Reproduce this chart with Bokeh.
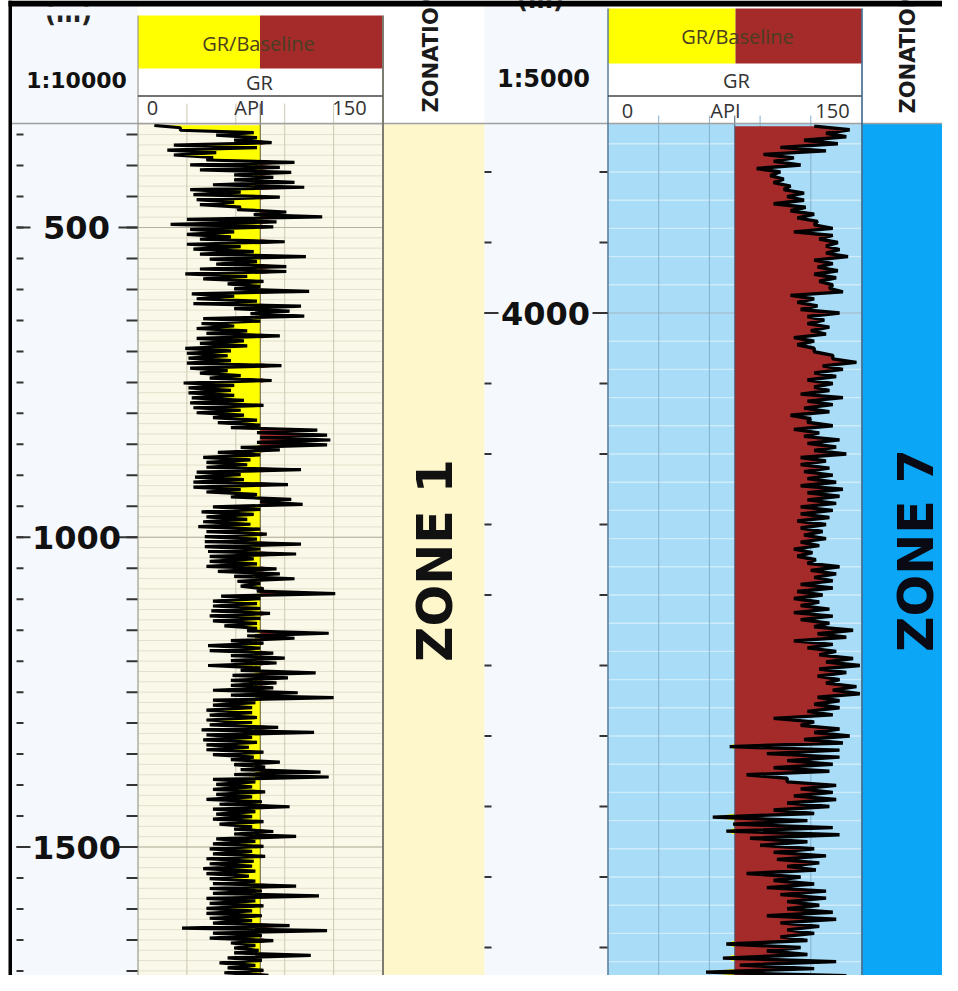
import numpy as np
from bokeh.plotting import figure
from bokeh.models import Range1d
from bokeh.core.properties import value
from bokeh.embed import file_html
from bokeh.resources import INLINE

# ------------------------------------------------------------------ data
# Left well (1:10000): GR in API, one reading every 4 m from 335 m.
# Readings come in pairs per 8 m (left edge, right edge of the trace).
left_depth_start = 335.0
left_depth_step = 4.0
gr_left = [
    10, 26, 26, 71, 48, 73, 59, 82, 22, 73, 18, 48, 22, 46, 42, 96,
    32, 87, 38, 94, 59, 83, 59, 96, 46, 102, 32, 63, 34, 87, 36, 59,
    38, 63, 61, 91, 71, 113, 30, 85, 20, 83, 32, 59, 30, 57, 38, 90,
    30, 63, 34, 71, 38, 103, 44, 73, 48, 91, 38, 91, 29, 67, 40, 77,
    55, 75, 59, 105, 33, 59, 36, 73, 34, 100, 59, 93, 69, 102, 40, 75,
    39, 59, 36, 67, 42, 87, 36, 65, 38, 67, 29, 57, 30, 55, 31, 57,
    30, 88, 32, 55, 38, 63, 44, 82, 28, 59, 31, 57, 31, 59, 33, 65,
    32, 77, 34, 63, 36, 65, 46, 73, 49, 75, 57, 110, 73, 116, 75, 118,
    73, 116, 63, 87, 49, 75, 40, 69, 42, 67, 42, 100, 36, 63, 35, 65,
    34, 92, 34, 63, 42, 73, 57, 94, 75, 101, 46, 75, 39, 71, 42, 67,
    40, 69, 37, 75, 42, 79, 41, 73, 41, 100, 41, 75, 43, 97, 44, 71,
    44, 73, 42, 85, 49, 87, 59, 96, 61, 75, 63, 77, 73, 121, 51, 75,
    46, 73, 46, 75, 45, 81, 44, 75, 46, 73, 53, 73, 67, 117, 67, 96,
    57, 77, 43, 75, 44, 83, 57, 90, 57, 85, 43, 75, 63, 109, 58, 92,
    57, 85, 57, 83, 46, 98, 57, 120, 46, 72, 46, 70, 42, 70, 44, 73,
    42, 70, 44, 86, 39, 108, 42, 70, 40, 73, 42, 68, 42, 77, 46, 71,
    57, 87, 59, 78, 63, 112, 59, 117, 46, 72, 48, 70, 46, 78, 48, 70,
    42, 76, 50, 93, 46, 72, 48, 70, 46, 77, 50, 70, 59, 83, 59, 97,
    48, 72, 46, 77, 44, 70, 46, 78, 42, 71, 44, 70, 40, 72, 42, 68,
    44, 72, 46, 97, 44, 76, 46, 111, 42, 72, 44, 77, 42, 70, 42, 76,
    44, 70, 46, 93, 27, 116, 46, 76, 44, 83, 57, 72, 59, 74, 59, 106,
    55, 76, 50, 72, 55, 77, 53, 80, 50, 74, 55, 72, 48, 78,
]

# Right well (1:5000): GR in API, one reading every 2.5 m from 3867.5 m.
right_depth_start = 3867.5
right_depth_step = 2.5
gr_right = [
    122, 143, 129, 141, 116, 136, 102, 129, 92, 110, 98, 114, 88, 102, 96, 104,
    98, 108, 104, 116, 106, 116, 98, 117, 108, 122, 112, 124, 122, 133, 110, 133,
    125, 136, 129, 137, 129, 142, 122, 133, 124, 136, 122, 135, 125, 133, 131, 139,
    108, 122, 112, 124, 114, 137, 118, 128, 118, 131, 120, 129, 110, 122, 112, 122,
    122, 133, 133, 147, 127, 139, 122, 135, 118, 133, 122, 131, 114, 139, 118, 133,
    116, 131, 108, 120, 118, 133, 110, 125, 116, 137, 118, 135, 122, 141, 114, 129,
    114, 131, 116, 133, 118, 135, 114, 139, 118, 137, 118, 135, 114, 133, 114, 131,
    112, 129, 114, 127, 116, 129, 114, 125, 110, 121, 112, 123, 118, 137, 120, 135,
    122, 133, 114, 133, 112, 127, 110, 125, 114, 131, 110, 133, 114, 131, 122, 145,
    124, 141, 110, 133, 118, 135, 125, 145, 129, 149, 125, 141, 124, 137, 129, 147,
    133, 149, 124, 137, 122, 137, 118, 133, 98, 122, 114, 137, 122, 143, 116, 139,
    72, 137, 94, 137, 106, 133, 98, 131, 82, 106, 106, 135, 114, 133, 110, 135,
    106, 131, 98, 122, 62, 118, 74, 133, 70, 137, 84, 118, 90, 122, 98, 129,
    100, 125, 106, 123, 82, 114, 98, 122, 94, 129, 102, 129, 106, 125, 106, 133,
    94, 135, 102, 125, 106, 122, 102, 118, 70, 114, 94, 118, 68, 135, 78, 122,
    58, 141, 78, 122,
]

gr_scale_min, gr_scale_max = 0, 150
gr_baseline = 75
gr_grid = [30, 60, 90, 120]
left_depth_labels = [500, 1000, 1500]
right_depth_labels = [4000]
left_tick_step = 50
right_tick_step = 50
left_scale_text = "1:10000"
right_scale_text = "1:5000"
zone_left = "ZONE 1"
zone_right = "ZONE 7"
unit_text = "(m)"
track_title = "GR/Baseline"
curve_name = "GR"
curve_unit = "API"

# ------------------------------------------------------------------ layout (pixels)
W, H = 942, 975


def x_rng(v0, p0, v1, p1):
    s = (p1 - p0) / (v1 - v0)
    return Range1d(start=v0 - p0 / s, end=v0 + (W - p0) / s)


def y_rng(v0, p0, v1, p1):
    s = (p1 - p0) / (v1 - v0)
    top = v0 - p0 / s
    bottom = v0 + (H - p0) / s
    return Range1d(start=bottom, end=top)


p = figure(width=W, height=H, x_range=Range1d(0, W), y_range=Range1d(H, 0),
           output_backend="svg", toolbar_location=None, min_border=0,
           x_axis_location=None, y_axis_location=None)
p.grid.visible = False
p.outline_line_color = None
p.background_fill_color = "white"
p.border_fill_color = "white"

p.extra_x_ranges = {
    "grL": x_rng(0, 137.5, 150, 382.0),
    "grR": x_rng(0, 607.5, 150, 861.0),
}
p.extra_y_ranges = {
    "dL": y_rng(500, 227.0, 1500, 846.5),
    "dR": y_rng(4000, 312.5, 4050, 383.0),
}

HDR = 123
BOT = H + 5
RGT = W + 5
DEPTH_BG = "#F5F8FC"


def box(x0, x1, y0, y1, color):
    p.quad(left=[x0], right=[x1], top=[y0], bottom=[y1], fill_color=color, line_color=None)


# backgrounds
box(8, 137, 0, BOT, DEPTH_BG)
box(137, 382, HDR, BOT, "#FAF8E9")
box(382, 484, HDR, BOT, "#FFF7CC")
box(484, 607, 0, BOT, DEPTH_BG)
box(607, 862, HDR, BOT, "#A8DCF7")
box(862, RGT, HDR, BOT, "#0BA6F5")
box(137, 484, 0, HDR, "white")
box(607, RGT, 0, HDR, "white")

# header colour boxes
box(137.5, 259.5, 15, 68, "#FFFF00")
box(259.5, 382, 15, 68, "#A52A2A")
box(607.5, 735, 8, 63, "#FFFF00")
box(735, 861, 8, 63, "#A52A2A")

# ------------------------------------------------------------------ track grids
gL = np.array(gr_left, dtype=float)
gR = np.array(gr_right, dtype=float)
dL = left_depth_start + left_depth_step * np.arange(len(gL))
dR = right_depth_start + right_depth_step * np.arange(len(gR))

lg = np.arange(350 - 50 / 3, 1740, 50 / 3)
p.segment(x0=[gr_scale_min] * len(lg), x1=[gr_scale_max] * len(lg), y0=lg, y1=lg,
          x_range_name="grL", y_range_name="dL", line_color="#E3E0CB", line_width=1)
rg = np.arange(3880, 4490, 20)
p.segment(x0=[gr_scale_min] * len(rg), x1=[gr_scale_max] * len(rg), y0=rg, y1=rg,
          x_range_name="grR", y_range_name="dR", line_color="#CFECFB", line_width=1.4)

for rn, dn, lo, hi, col in [("grL", "dL", 300, 1760, "#CCC8B2"), ("grR", "dR", 3860, 4500, "#86AFCD")]:
    p.segment(x0=gr_grid, x1=gr_grid, y0=[lo] * len(gr_grid), y1=[hi] * len(gr_grid),
              x_range_name=rn, y_range_name=dn, line_color=col, line_width=1)

p.segment(x0=[gr_scale_min] * 3, x1=[gr_scale_max] * 3, y0=left_depth_labels, y1=left_depth_labels,
          x_range_name="grL", y_range_name="dL", line_color="#B5B19E", line_width=1.2)
p.segment(x0=[gr_scale_min], x1=[gr_scale_max], y0=right_depth_labels, y1=right_depth_labels,
          x_range_name="grR", y_range_name="dR", line_color="#8AA9C0", line_width=1.2)

# ------------------------------------------------------------------ fills + curves
base_L = np.full(len(gL), gr_baseline, dtype=float)
base_R = np.full(len(gR), gr_baseline, dtype=float)
p.harea(x1=np.minimum(gL, gr_baseline), x2=base_L, y=dL, fill_color="#FFFF00",
        x_range_name="grL", y_range_name="dL")
p.harea(x1=base_L, x2=np.maximum(gL, gr_baseline), y=dL, fill_color="#A52A2A",
        x_range_name="grL", y_range_name="dL")
p.harea(x1=np.minimum(gR, gr_baseline), x2=base_R, y=dR, fill_color="#FFFF00",
        x_range_name="grR", y_range_name="dR")
p.harea(x1=base_R, x2=np.maximum(gR, gr_baseline), y=dR, fill_color="#A52A2A",
        x_range_name="grR", y_range_name="dR")

p.segment(x0=[gr_baseline], x1=[gr_baseline], y0=[300], y1=[1760],
          x_range_name="grL", y_range_name="dL", line_color="#5E5A3A", line_width=1)
p.segment(x0=[gr_baseline], x1=[gr_baseline], y0=[3860], y1=[4500],
          x_range_name="grR", y_range_name="dR", line_color="#4A5E78", line_width=1)

p.line(x=gL, y=dL, line_color="black", line_width=3.2, x_range_name="grL", y_range_name="dL")
p.line(x=gR, y=dR, line_color="black", line_width=3.4, x_range_name="grR", y_range_name="dR")


# ------------------------------------------------------------------ separators
def vline(x, y0, y1, color, w):
    p.segment(x0=[x], x1=[x], y0=[y0], y1=[y1], line_color=color, line_width=w)


def hline(x0, x1, y, color, w):
    p.segment(x0=[x0], x1=[x1], y0=[y], y1=[y], line_color=color, line_width=w)


hline(11, RGT, HDR, "#A0A0A0", 1.5)
vline(137.5, 15, BOT, "#9A9A90", 1.2)
vline(382.5, 15, BOT, "#7C7C70", 2)
vline(607.5, 8, BOT, "#5B7C98", 1.5)
vline(861.5, 8, BOT, "#2C5C84", 1.5)
hline(137.5, 382, 95.5, "#444444", 1.5)
hline(607.5, 861, 95.5, "#444444", 1.5)

# ------------------------------------------------------------------ depth ticks + labels
lt = np.arange(350, 1750, left_tick_step)
rt = np.arange(3900, 4490, right_tick_step)
TK = "#333333"
p.segment(x0=[16] * len(lt), x1=[23] * len(lt), y0=lt, y1=lt, y_range_name="dL", line_color=TK, line_width=2)
p.segment(x0=[126] * len(lt), x1=[137] * len(lt), y0=lt, y1=lt, y_range_name="dL", line_color=TK, line_width=2)
p.segment(x0=[16] * 3, x1=[30] * 3, y0=left_depth_labels, y1=left_depth_labels,
          y_range_name="dL", line_color=TK, line_width=2)
p.segment(x0=[118] * 3, x1=[137] * 3, y0=left_depth_labels, y1=left_depth_labels,
          y_range_name="dL", line_color=TK, line_width=2)
p.segment(x0=[484] * len(rt), x1=[491] * len(rt), y0=rt, y1=rt, y_range_name="dR", line_color=TK, line_width=2)
p.segment(x0=[599] * len(rt), x1=[607] * len(rt), y0=rt, y1=rt, y_range_name="dR", line_color=TK, line_width=2)
p.segment(x0=[484, 592], x1=[498, 607], y0=right_depth_labels * 2, y1=right_depth_labels * 2,
          y_range_name="dR", line_color=TK, line_width=2)

DJ = value("DejaVu Sans")
OS = value("Open Sans")
p.text(x=[76] * 3, y=left_depth_labels, text=[str(v) for v in left_depth_labels],
       y_range_name="dL", text_font=DJ, text_font_style="bold", text_font_size="32px",
       text_align="center", text_baseline="middle", text_color="#111111")
p.text(x=[545], y=right_depth_labels, text=[str(v) for v in right_depth_labels],
       y_range_name="dR", text_font=DJ, text_font_style="bold", text_font_size="32px",
       text_align="center", text_baseline="middle", text_color="#111111")

# ------------------------------------------------------------------ header texts
p.text(x=[68, 540], y=[27, 13], text=[unit_text, unit_text], text_font=DJ,
       text_font_style="bold", text_font_size="24px", text_align="center",
       text_baseline="bottom", text_color="#222222")
box(11.5, 137, 6, 15, DEPTH_BG)  # header panel edge hides the upper part, as in the source

p.text(x=[76], y=[80], text=[left_scale_text], text_font=DJ, text_font_style="bold",
       text_font_size="22px", text_align="center", text_baseline="middle", text_color="#111111")
p.text(x=[543], y=[78], text=[right_scale_text], text_font=DJ, text_font_style="bold",
       text_font_size="24px", text_align="center", text_baseline="middle", text_color="#111111")

p.text(x=[258, 737], y=[43, 36], text=[track_title] * 2, text_font=OS,
       text_font_size="20px", text_align="center", text_baseline="middle", text_color="#4A3E22")
p.text(x=[259, 736], y=[82, 80], text=[curve_name] * 2, text_font=OS,
       text_font_size="20px", text_align="center", text_baseline="middle", text_color="#333333")
p.text(x=[152, 249, 349, 627, 725, 832],
       y=[107] * 3 + [110] * 3,
       text=[str(gr_scale_min), curve_unit, str(gr_scale_max)] * 2, text_font=OS,
       text_font_size="20px", text_align="center", text_baseline="middle", text_color="#333333")

p.text(x=[430, 907], y=[112, 113], text=["ZONATION"] * 2, angle=np.pi / 2,
       text_font=DJ, text_font_style="bold", text_font_size="21px", text_align="left",
       text_baseline="middle", text_color="#1A1A1A")

p.text(x=[435], y=[560], text=[zone_left], angle=np.pi / 2, text_font=DJ,
       text_font_style="bold", text_font_size="49px", text_align="center",
       text_baseline="middle", text_color="#111111")
p.text(x=[916], y=[550], text=[zone_right], angle=np.pi / 2, text_font=DJ,
       text_font_style="bold", text_font_size="49px", text_align="center",
       text_baseline="middle", text_color="#0A0A14")

# ------------------------------------------------------------------ outer border
box(8, 11.5, 0, BOT, "black")
box(8, RGT, 0, 6, "black")

open("out.html", "w").write(file_html(p, INLINE))
